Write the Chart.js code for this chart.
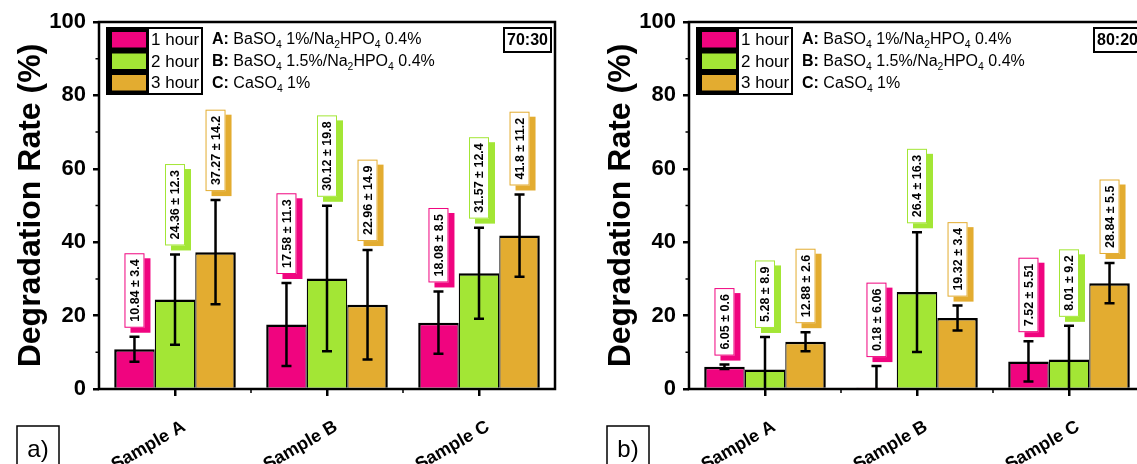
<!DOCTYPE html>
<html>
<head>
<meta charset="utf-8">
<title>Degradation rate</title>
<script src="https://cdn.jsdelivr.net/npm/chart.js@4.4.1/dist/chart.umd.min.js"></script>
<style>
  html, body { margin: 0; padding: 0; background: #fff; overflow: hidden; }
  body { width: 1137px; height: 464px; position: relative; }
  canvas { position: absolute; top: 0; }
  #chartA { left: 0; }
  #chartB { left: 590px; }
</style>
</head>
<body>
<canvas id="chartA" width="570" height="464"></canvas>
<canvas id="chartB" width="570" height="464"></canvas>
<script>
// Samples and series
const categories = ['Sample A', 'Sample B', 'Sample C'];
const seriesNames = ['1 hour', '2 hour', '3 hour'];
const seriesColors = ['#F0047F', '#A3E635', '#E3AC30'];

// 70:30 blend - mean degradation (%) and std dev
const mean7030_1h = [10.84, 17.58, 18.08];
const mean7030_2h = [24.36, 30.12, 31.57];
const mean7030_3h = [37.27, 22.96, 41.8];
const err7030_1h = [3.4, 11.3, 8.5];
const err7030_2h = [12.3, 19.8, 12.4];
const err7030_3h = [14.2, 14.9, 11.2];

// 80:20 blend
const mean8020_1h = [6.05, 0.18, 7.52];
const mean8020_2h = [5.28, 26.4, 8.01];
const mean8020_3h = [12.88, 19.32, 28.84];
const err8020_1h = [0.6, 6.06, 5.51];
const err8020_2h = [8.9, 16.3, 9.2];
const err8020_3h = [2.6, 3.4, 5.5];

// y axis
const yMin = 0, yMax = 100, yStep = 20;
const yMinorTicks = [10, 30, 50, 70, 90];

// sample composition notes, "_n" marks a subscript digit
const sampleNotes = [
    ['A:', 'BaSO_4 1%/Na_2HPO_4 0.4%'],
    ['B:', 'BaSO_4 1.5%/Na_2HPO_4 0.4%'],
    ['C:', 'CaSO_4 1%']
];

const FONT = "'Liberation Sans', Arial, sans-serif";
Chart.defaults.font.family = FONT;
Chart.defaults.color = '#000';

// text with subscripts
function drawRich(ctx, x, y, label, body, size) {
    ctx.font = `bold ${size}px ${FONT}`;
    ctx.fillText(label, x, y);
    x += ctx.measureText(label + ' ').width;
    body.split(/_(\d)/).forEach((part, k) => {
        if (k % 2) {
            ctx.font = `${size * 0.65}px ${FONT}`;
            ctx.fillText(part, x, y + size * 0.3);
        } else {
            ctx.font = `${size}px ${FONT}`;
            ctx.fillText(part, x, y);
        }
        x += ctx.measureText(part).width;
    });
}

const decorPlugin = {
    id: 'panelDecor',
    afterDatasetsDraw(chart) {
        const ctx = chart.ctx;
        const yScale = chart.scales.y;
        ctx.save();

        // error bars
        ctx.strokeStyle = '#000';
        ctx.lineWidth = 2.5;
        chart.data.datasets.forEach((ds, di) => {
            chart.getDatasetMeta(di).data.forEach((bar, i) => {
                const v = ds.data[i], e = ds.errors[i];
                const yHi = yScale.getPixelForValue(v + e);
                const yLo = yScale.getPixelForValue(Math.max(v - e, 0));
                ctx.beginPath();
                ctx.moveTo(bar.x, yHi);
                ctx.lineTo(bar.x, yLo);
                ctx.moveTo(bar.x - 5, yHi);
                ctx.lineTo(bar.x + 5, yHi);
                if (v - e > 0) {
                    ctx.moveTo(bar.x - 5, yLo);
                    ctx.lineTo(bar.x + 5, yLo);
                }
                ctx.stroke();
            });
        });

        // value tags above the error bars
        ctx.font = `bold 12.5px ${FONT}`;
        chart.data.datasets.forEach((ds, di) => {
            const color = ds.backgroundColor;
            chart.getDatasetMeta(di).data.forEach((bar, i) => {
                const text = `${ds.data[i]} ± ${ds.errors[i]}`;
                const len = ctx.measureText(text).width + 12;
                const bottom = yScale.getPixelForValue(ds.data[i] + ds.errors[i]) - 9;
                const half = 10;
                ctx.fillStyle = color;
                ctx.fillRect(bar.x - half + 6, bottom - len + 5, half * 2, len);
                ctx.fillStyle = '#fff';
                ctx.fillRect(bar.x - half, bottom - len, half * 2, len);
                ctx.strokeStyle = color;
                ctx.lineWidth = 1;
                ctx.strokeRect(bar.x - half + 0.5, bottom - len + 0.5, half * 2 - 1, len - 1);
                ctx.save();
                ctx.translate(bar.x, bottom - len / 2);
                ctx.rotate(-Math.PI / 2);
                ctx.fillStyle = '#000';
                ctx.textAlign = 'center';
                ctx.textBaseline = 'middle';
                ctx.fillText(text, 0, 1);
                ctx.restore();
            });
        });
        ctx.restore();
    },
    afterDraw(chart, args, opts) {
        const ctx = chart.ctx;
        const {left, right, top, bottom} = chart.chartArea;
        const yScale = chart.scales.y;
        ctx.save();

        // frame
        ctx.strokeStyle = '#000';
        ctx.lineWidth = 2.5;
        ctx.strokeRect(left, top, right - left, bottom - top);

        // minor ticks
        ctx.lineWidth = 1.5;
        ctx.beginPath();
        yMinorTicks.forEach(v => {
            const py = yScale.getPixelForValue(v);
            ctx.moveTo(left - 3.5, py);
            ctx.lineTo(left, py);
        });
        const step = (right - left) / categories.length;
        for (let k = 1; k < categories.length; k++) {
            const px = left + k * step;
            ctx.moveTo(px, bottom);
            ctx.lineTo(px, bottom + 4);
        }
        ctx.stroke();

        // legend
        const lx = left + 7, ly = top + 5;
        ctx.fillStyle = '#000';
        ctx.fillRect(lx, ly, 97, 68);
        ctx.fillStyle = '#fff';
        ctx.fillRect(lx + 43, ly + 2, 52, 64);
        ctx.textBaseline = 'middle';
        chart.data.datasets.forEach((ds, k) => {
            const ry = ly + 5 + k * 21.5;
            ctx.fillStyle = ds.backgroundColor;
            ctx.fillRect(lx + 6, ry, 34, 15.5);
            ctx.fillStyle = '#000';
            ctx.font = `17px ${FONT}`;
            ctx.fillText(ds.label, lx + 45, ry + 8.5);
        });

        // sample notes
        sampleNotes.forEach((note, k) => {
            drawRich(ctx, lx + 106, ly + 13 + k * 22, note[0], note[1], 16);
        });

        // blend ratio box
        ctx.lineWidth = 2;
        ctx.strokeRect(right - 51, top + 6, 47, 24);
        ctx.font = `bold 16px ${FONT}`;
        ctx.textAlign = 'center';
        ctx.fillText(opts.ratio, right - 27.5, top + 18.5);

        // panel letter
        ctx.lineWidth = 1.5;
        ctx.strokeRect(17, 426, 42, 50);
        ctx.font = `24px ${FONT}`;
        ctx.textBaseline = 'alphabetic';
        ctx.fillText(opts.letter, 38, 457);
        ctx.restore();
    }
};

function makeChart(canvasId, means, errs, ratio, letter) {
    const datasets = seriesNames.map((name, k) => ({
        label: name,
        data: means[k],
        errors: errs[k],
        backgroundColor: seriesColors[k],
        borderColor: '#000',
        borderWidth: {
            top: 2.5,
            bottom: 0,
            left: k === 0 ? 2.5 : 1.25,
            right: k === seriesNames.length - 1 ? 2.5 : 1.25
        },
        categoryPercentage: 0.8,
        barPercentage: 1.0
    }));

    return new Chart(document.getElementById(canvasId), {
        type: 'bar',
        data: { labels: categories, datasets: datasets },
        options: {
            responsive: false,
            animation: false,
            devicePixelRatio: 1,
            layout: { padding: { top: 22, right: 15, left: 0, bottom: 0 } },
            plugins: {
                legend: { display: false },
                tooltip: { enabled: false },
                panelDecor: { ratio: ratio, letter: letter }
            },
            scales: {
                x: {
                    afterFit: scale => { scale.height = 75; },
                    border: { display: false },
                    grid: {
                        offset: false,
                        drawOnChartArea: false,
                        drawTicks: true,
                        tickLength: 7,
                        lineWidth: 2.5,
                        color: '#000'
                    },
                    ticks: {
                        autoSkip: false,
                        minRotation: 30,
                        maxRotation: 30,
                        labelOffset: 9,
                        padding: 20,
                        font: { size: 18, weight: 'bold' }
                    }
                },
                y: {
                    min: yMin,
                    max: yMax,
                    afterFit: scale => { scale.width = 99; },
                    border: { display: false },
                    grid: {
                        drawOnChartArea: false,
                        drawTicks: true,
                        tickLength: 6,
                        lineWidth: 2.5,
                        color: '#000'
                    },
                    ticks: {
                        stepSize: yStep,
                        padding: 7,
                        font: { size: 22, weight: 'bold' }
                    },
                    title: {
                        display: true,
                        text: 'Degradation Rate (%)',
                        padding: { top: 12, bottom: 0 },
                        font: { size: 32, weight: 'bold' }
                    }
                }
            }
        },
        plugins: [decorPlugin]
    });
}

makeChart('chartA',
    [mean7030_1h, mean7030_2h, mean7030_3h],
    [err7030_1h, err7030_2h, err7030_3h],
    '70:30', 'a)');

makeChart('chartB',
    [mean8020_1h, mean8020_2h, mean8020_3h],
    [err8020_1h, err8020_2h, err8020_3h],
    '80:20', 'b)');
</script>
</body>
</html>
